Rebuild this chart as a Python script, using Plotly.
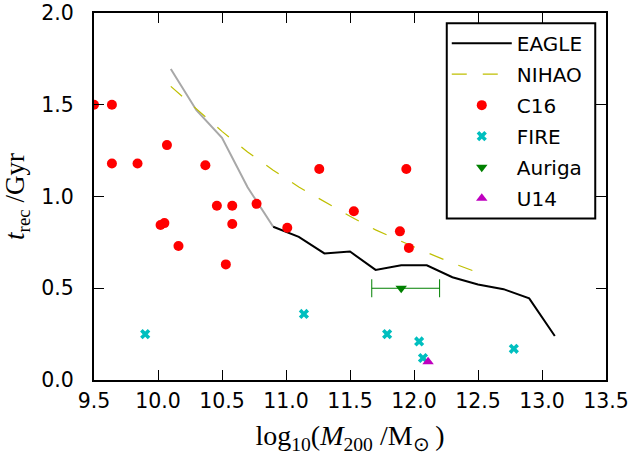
import plotly.graph_objects as go

# ---- data ----
eagle_gray_x = [10.1, 10.3, 10.5, 10.7, 10.9]
eagle_gray_y = [1.695, 1.47, 1.32, 1.05, 0.835]

eagle_x = [10.9, 11.1, 11.3, 11.5, 11.7, 11.9, 12.1, 12.3, 12.5, 12.7, 12.9, 13.1]
eagle_y = [0.835, 0.78, 0.69, 0.70, 0.60, 0.625, 0.625, 0.56, 0.52, 0.495, 0.445, 0.24]

nihao_x = [10.1, 10.3, 10.5, 10.7, 10.9, 11.1, 11.3, 11.5, 11.7, 11.9, 12.1, 12.3, 12.5]
nihao_y = [1.60, 1.475, 1.355, 1.243, 1.143, 1.052, 0.97, 0.892, 0.818, 0.755, 0.695, 0.637, 0.585]

c16_x = [9.5, 9.64, 9.64, 9.84, 10.07, 10.37, 10.02, 10.05, 10.16, 10.46, 10.58,
         10.58, 10.53, 10.77, 11.01, 11.26, 11.94, 11.53, 11.89, 11.96]
c16_y = [1.50, 1.50, 1.18, 1.18, 1.28, 1.17, 0.845, 0.855, 0.73, 0.95, 0.95,
         0.85, 0.63, 0.96, 0.83, 1.15, 1.15, 0.92, 0.81, 0.72]

fire_x = [9.90, 11.14, 11.79, 12.04, 12.07, 12.78]
fire_y = [0.25, 0.36, 0.25, 0.21, 0.12, 0.17]

auriga_x = [11.90]
auriga_y = [0.50]
auriga_xerr_minus = [0.23]
auriga_xerr_plus = [0.30]

u14_x = [12.11]
u14_y = [0.10]

x_ticks = [9.5, 10.0, 10.5, 11.0, 11.5, 12.0, 12.5, 13.0, 13.5]
y_ticks = [0.0, 0.5, 1.0, 1.5, 2.0]

fig = go.Figure()

fig.add_trace(go.Scatter(x=eagle_gray_x, y=eagle_gray_y, mode="lines",
                         line=dict(color="#A8A8A8", width=2), showlegend=False,
                         hoverinfo="skip"))
fig.add_trace(go.Scatter(x=eagle_x, y=eagle_y, mode="lines", name="EAGLE",
                         line=dict(color="black", width=2), legendgroup="a"))
fig.add_trace(go.Scatter(x=nihao_x, y=nihao_y, mode="lines", name="NIHAO",
                         line=dict(color="#BFBF00", width=1.2, dash="15px,16px"),
                         legendgroup="b"))
fig.add_trace(go.Scatter(x=c16_x, y=c16_y, mode="markers", name="C16",
                         marker=dict(color="#FF0000", size=10, symbol="circle"),
                         legendgroup="c"))
fig.add_trace(go.Scatter(x=fire_x, y=fire_y, mode="markers", name="FIRE",
                         marker=dict(color="#00BFBF", size=9, symbol="x"),
                         legendgroup="d"))
fig.add_trace(go.Scatter(x=auriga_x, y=auriga_y, mode="markers", name="Auriga",
                         marker=dict(color="#008000", size=10, symbol="triangle-down"),
                         error_x=dict(type="data", symmetric=False,
                                      array=auriga_xerr_plus, arrayminus=auriga_xerr_minus,
                                      color="#008000", thickness=1, width=9),
                         legendgroup="e"))
fig.add_trace(go.Scatter(x=u14_x, y=u14_y, mode="markers", name="U14",
                         marker=dict(color="#BF00BF", size=10, symbol="triangle-up"),
                         legendgroup="f"))

axis_common = dict(
    showline=True, linewidth=2, linecolor="black", mirror="allticks",
    ticks="inside", ticklen=10, tickwidth=1, tickcolor="black",
    showgrid=False, zeroline=False, automargin=False,
    ticklabeloverflow="allow",
    tickfont=dict(family="DejaVu Sans", size=20.5, color="black"),
)

fig.update_layout(
    template="none",
    width=629, height=455,
    margin=dict(l=94, r=23, t=13, b=75),
    plot_bgcolor="white", paper_bgcolor="white",
    xaxis=dict(range=[9.5, 13.5], tickvals=x_ticks,
               ticktext=[f"{v:.1f}" for v in x_ticks],
               title=dict(text="log<sub>10</sub>(<i>M</i><sub>200</sub> /M<sub>\u2299</sub>\u2009)",
                          font=dict(family="Liberation Serif", size=28, color="black"),
                          standoff=21),
               ticklabelstandoff=1,
               **axis_common),
    yaxis=dict(range=[0, 2.0], tickvals=y_ticks,
               ticktext=[f"{v:.1f}" for v in y_ticks],
               title=dict(text="<i>t</i><sub>rec</sub> /Gyr",
                          font=dict(family="Liberation Serif", size=27, color="black"),
                          standoff=16),
               ticklabelstandoff=14,
               **axis_common),
    legend=dict(x=0.689, y=0.971, xanchor="left", yanchor="top",
                borderwidth=0, bgcolor="rgba(0,0,0,0)",
                font=dict(family="DejaVu Sans", size=20, color="black"),
                tracegroupgap=2, itemwidth=60, traceorder="grouped"),
    shapes=[dict(type="rect", xref="paper", yref="paper",
                 x0=0.689, x1=0.979, y0=0.44, y1=0.972,
                 line=dict(color="black", width=2), fillcolor="white",
                 layer="below")],
    showlegend=True,
)

# remove the default 8px page margin so the figure sits at the window's origin
fig.write_html("out.html", config={"displayModeBar": False},
               post_script="document.body.style.margin='0px';")
